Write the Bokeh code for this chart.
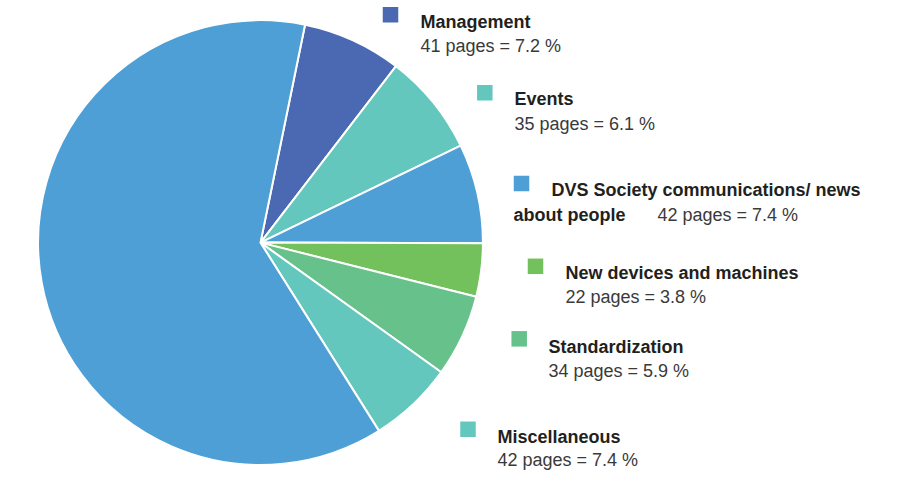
import math
from bokeh.plotting import figure
from bokeh.models import Range1d, ColumnDataSource
from bokeh.core.properties import value
from bokeh.embed import file_html
from bokeh.resources import INLINE

# ---- data ----
categories = ["Management", "Events",
              "DVS Society communications/ news about people",
              "New devices and machines", "Standardization", "Miscellaneous"]
label_pages = [41, 35, 42, 22, 34, 42]
label_pct = [7.2, 6.1, 7.4, 3.8, 5.9, 7.4]

# slices as drawn, clockwise from the top (last one is the unlabeled remainder)
slice_names = ["Management", "Events", "DVS Society communications/ news about people",
               "New devices and machines", "Standardization", "Miscellaneous", "Other"]
slice_pages = [41, 42, 41, 22, 34, 35, 353]
slice_colors = ["#4A69B2", "#64C7BD", "#4D9FD6", "#72C15C", "#67C18A", "#64C7BD", "#4D9FD6"]
legend_colors = ["#4A69B2", "#64C7BD", "#4D9FD6", "#72C15C", "#67C18A", "#64C7BD"]

# ---- layout (reference pixel coordinates, fitted into the canvas) ----
W, H = 883, 470
SY = H / 486.0
SHIFT = 4.5
def Y(ry):
    return H - (SY * ry - SHIFT)

cx, cy, R = 260, Y(255), 230 * SY
start_offset_deg = 11.55

sq_pos = [(390, 19.3), (484.3, 100), (521, 194), (535, 279.5), (518.7, 354.5), (467.5, 448)]
txt_x = [420, 514, 551, 565, 548, 497]
base1 = [26.7, 106.7, 200.7, 286.7, 363, 456]
base2 = [51.7, 132.7, 226.7, 311.7, 388, 480]
wrap_break = {2: "DVS Society communications/ news"}
wrap_x2 = {2: 513}
val_x2 = {2: 657}

p = figure(width=W, height=H, output_backend="svg", toolbar_location=None,
           x_range=Range1d(0, W), y_range=Range1d(0, H), min_border=0)
p.axis.visible = False
p.grid.visible = False
p.outline_line_color = None
p.background_fill_color = "white"
p.border_fill_color = "white"

total = float(sum(slice_pages))
off = math.radians(start_offset_deg)
cum = 0.0
starts, ends = [], []
for v in slice_pages:
    t0 = off + 2 * math.pi * cum / total
    cum += v
    t1 = off + 2 * math.pi * cum / total
    starts.append(math.pi / 2 - t1)
    ends.append(math.pi / 2 - t0)

src = ColumnDataSource(dict(x=[cx] * len(slice_pages), y=[cy] * len(slice_pages),
                            s=starts, e=ends, c=slice_colors, name=slice_names))
p.wedge(x="x", y="y", radius=R, start_angle="s", end_angle="e", fill_color="c",
        line_color="white", line_width=2, source=src)

# legend squares
p.rect(x=[q[0] for q in sq_pos], y=[Y(q[1]) for q in sq_pos], width=15.5, height=15.5,
       fill_color=legend_colors, line_color=None)

bold_x, bold_y, bold_t = [], [], []
reg_x, reg_y, reg_t = [], [], []
for i, name in enumerate(categories):
    valtxt = f"{label_pages[i]} pages = {label_pct[i]} %"
    if i in wrap_break:
        l1 = wrap_break[i]
        l2 = name[len(l1):].strip()
        bold_x += [txt_x[i], wrap_x2[i]]
        bold_y += [Y(base1[i]), Y(base2[i])]
        bold_t += [l1, l2]
        reg_x.append(val_x2[i]); reg_y.append(Y(base2[i])); reg_t.append(valtxt)
    else:
        bold_x.append(txt_x[i]); bold_y.append(Y(base1[i])); bold_t.append(name)
        reg_x.append(txt_x[i]); reg_y.append(Y(base2[i])); reg_t.append(valtxt)

p.text(x=bold_x, y=bold_y, text=bold_t, text_font=value("Liberation Sans"),
       text_font_style="bold", text_font_size="18px", text_color="#231F20",
       text_baseline="alphabetic", text_align="left")
p.text(x=reg_x, y=reg_y, text=reg_t, text_font=value("Liberation Sans"),
       text_font_style="normal", text_font_size="18px", text_color="#3A3A3A",
       text_baseline="alphabetic", text_align="left")

open("out.html", "w").write(file_html(p, INLINE))
